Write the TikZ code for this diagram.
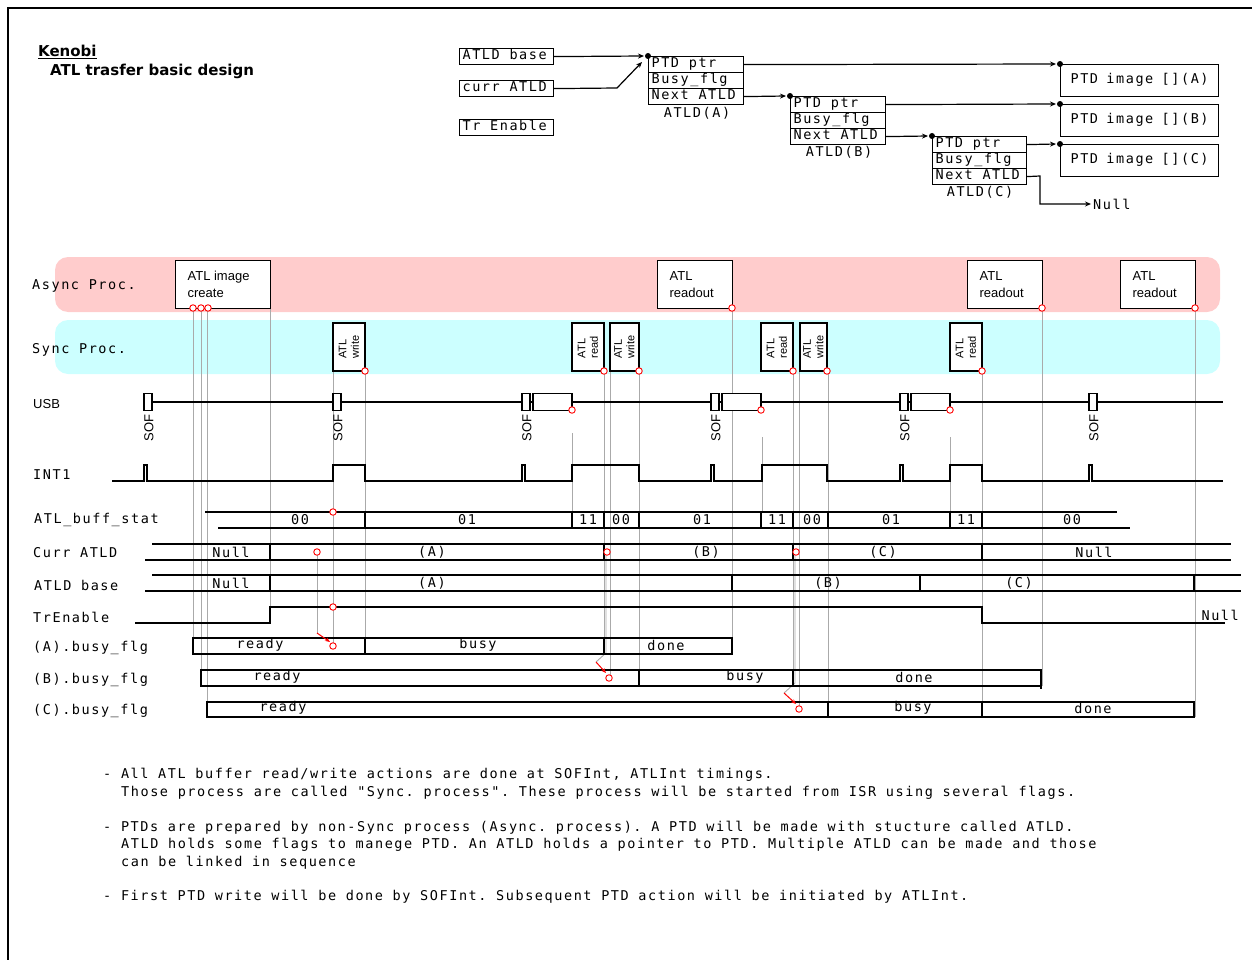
\documentclass[tikz,border=0pt]{standalone}
\usepackage{fontspec}
\setmainfont{Liberation Sans}
\newfontfamily\monof{DejaVu Sans Mono}[LetterSpace=11.6]
\newfontfamily\sansf{Liberation Sans}
\newfontfamily\boldf{DejaVu Sans}
\usetikzlibrary{arrows.meta}
\definecolor{asyncpink}{RGB}{255,204,204}
\definecolor{synccyan}{RGB}{204,255,255}
\definecolor{glc}{RGB}{170,170,170}
\tikzset{
  ml/.style={font=\monof\fontsize{13.5}{16}\selectfont\frenchspacing, inner sep=0pt},
  sl/.style={font=\sansf\fontsize{13}{17}\selectfont, inner sep=0pt},
  ttl/.style={font=\boldf\bfseries\fontsize{15}{18}\selectfont, inner sep=0pt},
  blk/.style={line width=1.2pt},
  gline/.style={draw=glc, line width=0.9pt},
  rcirc/.style={circle, draw=red, line width=0.9pt, fill=white, minimum size=6.5pt, inner sep=0pt},
  cell/.style={draw, line width=1.2pt, anchor=north west, inner xsep=3pt, inner ysep=0pt, align=left,
    font=\monof\fontsize{13.5}{16}\selectfont, execute at begin node={\spaceskip=0pt\xspaceskip=0pt\strut}},
  arr/.style={line width=1.2pt, -{Stealth[length=6pt,width=5pt]}},
  abox/.style={draw, line width=1.2pt, fill=white, anchor=north west, minimum height=48pt,
    inner ysep=0pt, inner xsep=12pt, align=left, font=\sansf\fontsize{13}{17}\selectfont,
    execute at begin node={\spaceskip=0pt\xspaceskip=0pt}},
  sbox/.style={draw, line width=1.2pt, fill=white, rotate=90, minimum width=48pt, inner sep=0pt,
    align=left, font=\sansf\fontsize{11}{12.5}\selectfont},
  tbox/.style={draw, line width=1.2pt, fill=white, minimum height=17pt, inner sep=0pt},
  redarr/.style={draw=red, line width=1pt, -{Stealth[length=5pt,width=4pt]}},
  dotc/.style={circle, fill=black, minimum size=6pt, inner sep=0pt},
}
\begin{document}
\frenchspacing
\begin{tikzpicture}[x=1pt,y=-1pt]
\useasboundingbox (0,0) rectangle (1252,960);
\draw[line width=1.5pt] (8,960) -- (8,8) -- (1252,8);

% title
\node[ttl, anchor=base west] (ken) at (38,57) {\underline{Kenobi}};
\node[ttl, anchor=base west] (sub) at (50,76) {ATL trasfer basic design};

% ---------- top data structure ----------
\node[cell, text width=88pt] (atldbase) at (459,48) {ATLD base};
\node[cell, text width=88pt] (curratld) at (459,80) {curr ATLD};
\node[cell, text width=88pt] (trenable) at (459,119) {Tr Enable};

\node[cell, text width=89pt] (aptr)  at (648,56) {PTD ptr};
\node[cell, text width=89pt] (abusy) at (648,72) {Busy\_flg};
\node[cell, text width=89pt] (anext) at (648,88) {Next ATLD};
\node[ml] (alab) at (697,113) {ATLD(A)};

\node[cell, text width=89pt] (bptr)  at (790,96) {PTD ptr};
\node[cell, text width=89pt] (bbusy) at (790,112) {Busy\_flg};
\node[cell, text width=89pt] (bnext) at (790,128) {Next ATLD};
\node[ml] (blab) at (839,152) {ATLD(B)};

\node[cell, text width=88pt] (cptr)  at (932,136) {PTD ptr};
\node[cell, text width=88pt] (cbusy) at (932,152) {Busy\_flg};
\node[cell, text width=88pt] (cnext) at (932,168) {Next ATLD};
\node[ml] (clab) at (980,192) {ATLD(C)};

\node[cell, minimum height=32pt, text width=138pt, inner xsep=10pt] (ptdA) at (1060,64) {PTD image [](A)};
\node[cell, minimum height=32pt, text width=138pt, inner xsep=10pt] (ptdB) at (1060,104) {PTD image [](B)};
\node[cell, minimum height=32pt, text width=138pt, inner xsep=10pt] (ptdC) at (1060,144) {PTD image [](C)};
\node[ml, anchor=west] (nullt) at (1093,204) {Null};

\coordinate (cbend) at (617,88);
\coordinate (nbend1) at (1040,176);
\coordinate (nbend2) at (1040,204);
\draw[arr] (atldbase.east) -- ([xshift=-4pt]aptr.north west);
\draw[arr] (curratld.east) -- (cbend) -- ([xshift=-6pt,yshift=-6pt]aptr.north west);
\draw[arr] (aptr.east) -- ([xshift=-4pt]ptdA.north west);
\draw[arr] (anext.east) -- ([xshift=-4pt]bptr.north west);
\draw[arr] (bptr.east) -- ([xshift=-4pt]ptdB.north west);
\draw[arr] (bnext.east) -- ([xshift=-4pt]cptr.north west);
\draw[arr] (cptr.east) -- ([xshift=-4pt]ptdC.north west);
\draw[arr] (cnext.east) -- (nbend1) -- (nbend2) -- ([xshift=-2pt]nullt.west);
\foreach \n in {aptr,bptr,cptr,ptdA,ptdB,ptdC}
  \node[dotc] at (\n.north west) {};

% ---------- bands ----------
\fill[asyncpink, rounded corners=13pt] (55,257) rectangle (1220,312);
\fill[synccyan, rounded corners=13pt] (55,320) rectangle (1220,374);
\node[ml, anchor=west] (lasync) at (32,286) {Async Proc.};
\node[ml, anchor=west] (lsync) at (32,350) {Sync Proc.};

% ---------- gray guide lines ----------
\foreach \x/\a/\b in {193/308/638, 201/308/670, 207/308/702, 270/308/607, 333/371/646,
  365/371/638, 572/433/512, 604/371/654, 610/371/678, 639/371/670, 732/308/654,
  762/437/512, 793/371/670, 799/371/709, 828/371/702, 950/437/512, 982/371/702,
  1042/308/686, 1195/308/717}
  \draw[gline] (\x,\a) -- (\x,\b);
\draw[gline] (317,552) -- (317,633);
\draw[gline] (606,552) -- (606,653) -- (596,662);
\draw[gline] (795,552) -- (795,683) -- (784,693);

% ---------- async boxes ----------
\node[abox, minimum width=95pt, text width=71pt] (aic) at (175,260) {ATL image\\create};
\node[abox, minimum width=75pt, text width=51pt] (ro1) at (657,260) {ATL\\readout};
\node[abox, minimum width=75pt, text width=51pt] (ro2) at (967,260) {ATL\\readout};
\node[abox, minimum width=75pt, text width=51pt] (ro3) at (1120,260) {ATL\\readout};

% ---------- sync boxes ----------
\node[sbox, minimum height=32pt] (sw1) at (349,347) {ATL\\write};
\node[sbox, minimum height=32pt] (sr2) at (588,347) {ATL\\read};
\node[sbox, minimum height=29pt] (sw2) at (624.5,347) {ATL\\write};
\node[sbox, minimum height=32pt] (sr3) at (777,347) {ATL\\read};
\node[sbox, minimum height=27pt] (sw3) at (813.5,347) {ATL\\write};
\node[sbox, minimum height=32pt] (sr4) at (966,347) {ATL\\read};

% ---------- USB ----------
\node[sl, anchor=west] (lusb) at (33,404) {USB};
\draw[blk] (152,402) -- (1223,402);
\foreach \x [count=\i] in {148,337,526,715,904,1093} {
  \node[tbox, minimum width=8pt] (sof\i) at (\x,402) {};
  \node[sl, rotate=90] (soft\i) at (\x+1,428) {SOF};
}
\node[tbox, minimum width=39pt] (d1) at (552.5,402) {};
\node[tbox, minimum width=39pt] (d2) at (741.5,402) {};
\node[tbox, minimum width=39pt] (d3) at (930.5,402) {};

% ---------- INT1 ----------
\node[ml, anchor=west] (lint) at (33,475) {INT1};
\draw[blk] (112,481) -- (144,481) -- (144,465) -- (147,465) -- (147,481) -- (333,481)
  -- (333,465) -- (365,465) -- (365,481) -- (522,481) -- (522,465) -- (525,465) -- (525,481)
  -- (572,481) -- (572,465) -- (639,465) -- (639,481) -- (711,481) -- (711,465) -- (714,465)
  -- (714,481) -- (762,481) -- (762,465) -- (827,465) -- (827,481) -- (900,481) -- (900,465)
  -- (903,465) -- (903,481) -- (950,481) -- (950,465) -- (982,465) -- (982,481) -- (1089,481)
  -- (1089,465) -- (1092,465) -- (1092,481) -- (1223,481);

% ---------- ATL_buff_stat ----------
\node[ml, anchor=west] (lbuf) at (34,520) {ATL\_buff\_stat};
\draw[blk] (205,512) -- (1117,512);
\draw[blk] (218,528) -- (1130,528);
\foreach \x in {365,572,604,639,761,793,828,950,982} \draw[blk] (\x,512) -- (\x,528);
\foreach \x/\t in {300/00,467/01,588/11,621/00,702/01,777/11,812/00,891/01,966/11,1072/00}
  \node[ml] at (\x,520) {\t};

% ---------- Curr ATLD ----------
\node[ml, anchor=west] (lcur) at (33,553) {Curr ATLD};
\draw[blk] (152,544) -- (1231,544);
\draw[blk] (145,560) -- (1231,560);
\foreach \x in {270,604,793,982} \draw[blk] (\x,544) -- (\x,560);
\foreach \x/\t in {231/Null,432/(A),706/(B),883/(C),1094/Null}
  \node[ml] at (\x,552) {\t};

% ---------- ATLD base ----------
\node[ml, anchor=west] (lbase) at (34,585) {ATLD base};
\draw[blk] (152,575) -- (1241,575);
\draw[blk] (145,591) -- (1241,591);
\foreach \x in {270,732,920,1194} \draw[blk] (\x,575) -- (\x,591);
\foreach \x/\t in {231/Null,432/(A),828/(B),1019/(C)}
  \node[ml] at (\x,583) {\t};

% ---------- TrEnable ----------
\node[ml, anchor=west] (ltr) at (33,617) {TrEnable};
\draw[blk] (135,623) -- (270,623) -- (270,607) -- (982,607) -- (982,623) -- (1225,623);
\node[ml, anchor=east] (trnull) at (1239,615) {Null};

% ---------- busy flags ----------
\node[ml, anchor=west] (lA) at (33,648) {(A).busy\_flg};
\node[ml, anchor=west] (lB) at (33,680) {(B).busy\_flg};
\node[ml, anchor=west] (lC) at (33,711) {(C).busy\_flg};
\draw[blk] (193,638) rectangle (732,654);
\foreach \x in {365,604} \draw[blk] (\x,638) -- (\x,654);
\foreach \x/\t in {260/ready,478/busy,666/done} \node[ml] at (\x,645) {\t};
\draw[blk] (201,670) rectangle (1041,686);
\draw[blk] (1041,686) -- (1041,689);
\foreach \x in {639,793} \draw[blk] (\x,670) -- (\x,686);
\foreach \x/\t in {277/ready,745/busy,914/done} \node[ml] at (\x,677) {\t};
\draw[blk] (207,702) rectangle (1194,717);
\foreach \x in {828,982} \draw[blk] (\x,702) -- (\x,717);
\foreach \x/\t in {283/ready,913/busy,1093/done} \node[ml] at (\x,708) {\t};

% ---------- red arrows ----------
\draw[redarr] (317,633) -- (330,642);
\draw[redarr] (596,662) -- (606,673);
\draw[redarr] (784,693) -- (796,704);

% ---------- red circles ----------
\foreach \x/\y [count=\i] in {193/308,201/308,208/308,732/308,1042/308,1195/308,
  365/371,604/371,639/371,793/371,827/371,982/371,
  572/410,761/410,950/410,
  333/512,317/552,607/552,796/552,333/607,333/646,609/678,799/709}
  \node[rcirc] (rc\i) at (\x,\y) {};

% ---------- notes ----------
\node[ml, anchor=base west] (n1) at (103,778) {- All ATL buffer read/write actions are done at SOFInt, ATLInt timings.};
\node[ml, anchor=base west] (n2) at (121,796) {Those process are called "Sync. process". These process will be started from ISR using several flags.};
\node[ml, anchor=base west] (n3) at (103,831) {- PTDs are prepared by non-Sync process (Async. process). A PTD will be made with stucture called ATLD.};
\node[ml, anchor=base west] (n4) at (121,848) {ATLD holds some flags to manege PTD. An ATLD holds a pointer to PTD. Multiple ATLD can be made and those};
\node[ml, anchor=base west] (n5) at (121,866) {can be linked in sequence};
\node[ml, anchor=base west] (n6) at (103,900) {- First PTD write will be done by SOFInt. Subsequent PTD action will be initiated by ATLInt.};
\end{tikzpicture}
\end{document}
